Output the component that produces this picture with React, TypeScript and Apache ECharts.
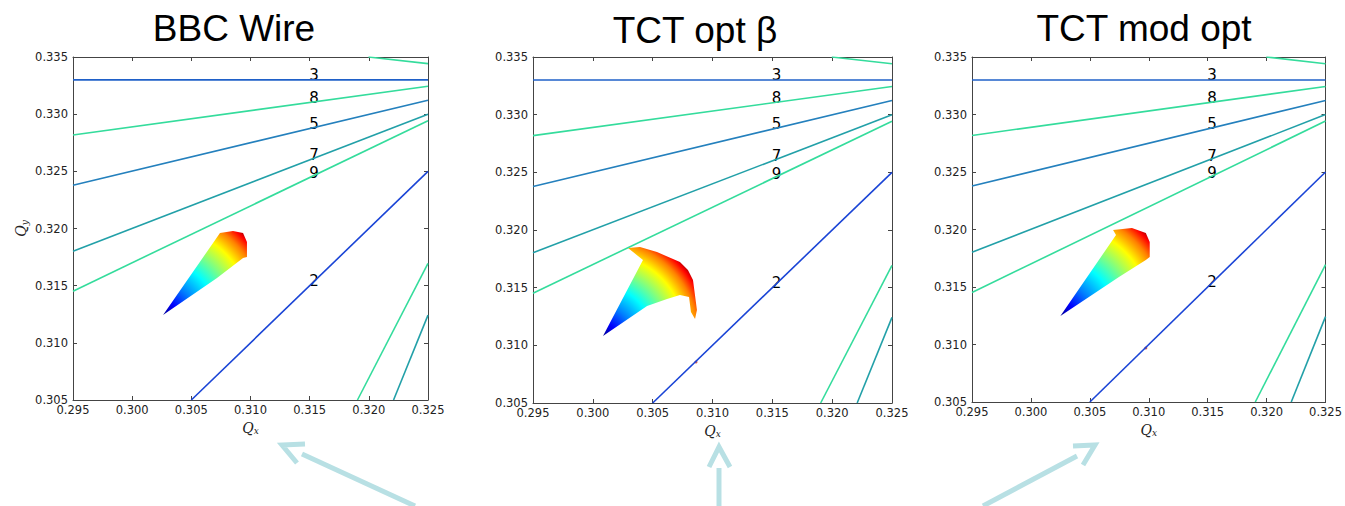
import React, { useEffect, useRef } from "react";
import * as echarts from "echarts";

// ---- data ----
const panelTitles = ["BBC Wire", "TCT opt β", "TCT mod opt"];

const qxMin = 0.295;
const qxMax = 0.325;
const qyMin = 0.305;
const qyMax = 0.335;
const tickStep = 0.005;

// resonance lines (same in each panel): order, start point, end point
const resonanceOrder = [3, 8, 5, 7, 9, 2, 9, 9, 7];
const resonanceStart = [
  [0.295, 0.333],
  [0.295, 0.32818],
  [0.295, 0.32378],
  [0.295, 0.31802],
  [0.295, 0.31452],
  [0.305, 0.305],
  [0.31997, 0.335],
  [0.31904, 0.305],
  [0.32209, 0.305],
];
const resonanceEnd = [
  [0.325, 0.333],
  [0.325, 0.33244],
  [0.325, 0.33122],
  [0.325, 0.32999],
  [0.325, 0.32943],
  [0.325, 0.325],
  [0.325, 0.33442],
  [0.325, 0.31694],
  [0.325, 0.31242],
];

// order labels at Qx = 0.315
const labelOrder = [3, 8, 5, 7, 9, 2];
const labelQx = 0.315;
const labelQy = [0.333, 0.33102, 0.32874, 0.326, 0.32446, 0.315];

// tune footprints (outline, first vertex = zero-amplitude tip)
const footprintBBC = [
  [0.30261, 0.31243],
  [0.30742, 0.31961],
  [0.30852, 0.31978],
  [0.30937, 0.31961],
  [0.3097, 0.31882],
  [0.3097, 0.31751],
  [0.30937, 0.31742],
  [0.30717, 0.31567],
];
const footprintOptBeta = [
  [0.30085, 0.31081],
  [0.30419, 0.3174],
  [0.30294, 0.31844],
  [0.30394, 0.31853],
  [0.30536, 0.31809],
  [0.30728, 0.31722],
  [0.30795, 0.31653],
  [0.30837, 0.31567],
  [0.3087, 0.31306],
  [0.30854, 0.31228],
  [0.3082, 0.31289],
  [0.30804, 0.31419],
  [0.30728, 0.31437],
  [0.3062, 0.31402],
  [0.30453, 0.31341],
];
const footprintModOpt = [
  [0.3025, 0.31248],
  [0.30722, 0.31952],
  [0.30697, 0.31996],
  [0.30857, 0.32013],
  [0.30975, 0.3197],
  [0.31008, 0.31891],
  [0.31008, 0.31761],
  [0.30975, 0.31735],
  [0.30747, 0.31587],
];
const footprints = [footprintBBC, footprintOptBeta, footprintModOpt];

// stray particles
const strayBBC: number[][] = [];
const strayOptBeta = [[0.30862, 0.30856]];
const strayModOpt = [[0.30975, 0.3097]];
const strays = [strayBBC, strayOptBeta, strayModOpt];

// ---- styles ----
const orderColor: Record<number, string> = {
  2: "#1a44d6",
  3: "#1f60c8",
  5: "#2480bd",
  7: "#22a0a8",
  8: "#34dc9c",
  9: "#34dc9c",
};
const grids = [
  { left: 73, top: 57, width: 355, height: 343 },
  { left: 533, top: 57, width: 359, height: 346 },
  { left: 972, top: 57, width: 356, height: 345 },
];
const titlePos = [
  [234, 28],
  [695, 30],
  [1144, 28],
];
const jetStops = [
  { offset: 0, color: "#00008f" },
  { offset: 0.12, color: "#0000ff" },
  { offset: 0.27, color: "#0080ff" },
  { offset: 0.45, color: "#00ffff" },
  { offset: 0.6, color: "#80ff80" },
  { offset: 0.75, color: "#ffff00" },
  { offset: 0.87, color: "#ff8000" },
  { offset: 0.95, color: "#ff0000" },
  { offset: 1, color: "#900000" },
];
const axisColor = "#444";
const textColor = "#222";
const arrowColor = "#b8e0e4";

export default function App() {
  const ref = useRef<HTMLDivElement>(null);
  useEffect(() => {
    if (!ref.current) return;
    const chart = echarts.init(ref.current, undefined, { renderer: "svg" });
    const xAxes: any[] = [];
    const yAxes: any[] = [];
    const series: any[] = [];
    const nameRich = {
      q: { fontFamily: "DejaVu Serif", fontStyle: "italic", fontSize: 14, color: textColor },
      s: { fontFamily: "DejaVu Serif", fontStyle: "italic", fontSize: 9, color: textColor, padding: [7, 0, 0, 0] },
    };
    grids.forEach((g, i) => {
      const base = {
        gridIndex: i,
        type: "value",
        interval: tickStep,
        splitLine: { show: false },
        axisLine: { show: true, onZero: false, lineStyle: { color: axisColor, width: 1 } },
        axisTick: { show: true, inside: true, length: 4, lineStyle: { color: axisColor } },
      };
      const label = {
        show: true,
        fontFamily: "DejaVu Sans",
        fontSize: 11.5,
        color: textColor,
        formatter: (v: number) => v.toFixed(3),
        showMinLabel: true,
        showMaxLabel: true,
      };
      xAxes.push({
        ...base,
        min: qxMin,
        max: qxMax,
        position: "bottom",
        axisLabel: { ...label, margin: 4 },
        name: "{q|Q}{s|x}",
        nameLocation: "middle",
        nameGap: 17,
        nameTextStyle: { rich: nameRich },
      });
      xAxes.push({ ...base, min: qxMin, max: qxMax, position: "top", axisLabel: { show: false } });
      yAxes.push({
        ...base,
        min: qyMin,
        max: qyMax,
        position: "left",
        axisLabel: { ...label, margin: 5 },
        name: i === 0 ? "{q|Q}{s|y}" : "",
        nameLocation: "middle",
        nameRotate: 90,
        nameGap: 44,
        nameTextStyle: { rich: nameRich },
      });
      yAxes.push({ ...base, min: qyMin, max: qyMax, position: "right", axisLabel: { show: false } });

      resonanceOrder.forEach((ord, k) => {
        series.push({
          type: "line",
          xAxisIndex: 2 * i,
          yAxisIndex: 2 * i,
          data: [resonanceStart[k], resonanceEnd[k]],
          symbol: "none",
          silent: true,
          lineStyle: { color: orderColor[ord], width: 1.6 },
        });
      });

      const fp = footprints[i];
      series.push({
        type: "custom",
        xAxisIndex: 2 * i,
        yAxisIndex: 2 * i,
        data: fp,
        silent: true,
        renderItem: (params: any, api: any) => {
          if (params.dataIndex !== 0) return null;
          const pts = fp.map((p) => api.coord(p));
          const tip = pts[0];
          let r = 0;
          pts.forEach((p: number[]) => {
            r = Math.max(r, Math.hypot(p[0] - tip[0], p[1] - tip[1]));
          });
          return {
            type: "polygon",
            shape: { points: pts },
            style: {
              fill: new echarts.graphic.RadialGradient(tip[0], tip[1], r * 1.02, jetStops, true),
              stroke: null,
            },
          };
        },
      });

      series.push({
        type: "scatter",
        xAxisIndex: 2 * i,
        yAxisIndex: 2 * i,
        data: strays[i],
        symbolSize: 3,
        silent: true,
        itemStyle: { color: "#c03028" },
      });

      series.push({
        type: "scatter",
        xAxisIndex: 2 * i,
        yAxisIndex: 2 * i,
        data: labelQy.map((y, k) => [labelQx, y, labelOrder[k]]),
        symbolSize: 1,
        silent: true,
        itemStyle: { color: "rgba(0,0,0,0)" },
        label: {
          show: true,
          position: [0, 3],
          align: "left",
          verticalAlign: "bottom",
          fontFamily: "DejaVu Sans",
          fontSize: 15,
          color: "#000",
          opacity: 1,
          textBorderWidth: 0,
          formatter: (p: any) => String(p.value[2]),
        },
      });
    });

    const graphics: any[] = panelTitles.map((t, i) => ({
      type: "text",
      x: titlePos[i][0],
      y: titlePos[i][1],
      style: {
        text: t,
        fontFamily: "Liberation Sans",
        fontSize: 37,
        fill: "#000",
        align: "center",
        verticalAlign: "middle",
      },
    }));
    const arrows = [
      { shaft: [[415, 506], [302, 454]], head: [[305, 444], [282, 445], [297, 463]] },
      { shaft: [[719, 506], [719, 468]], head: [[709, 467], [719, 447], [730, 467]] },
      { shaft: [[983, 506], [1077, 456]], head: [[1073, 446], [1095, 445], [1083, 465]] },
    ];
    arrows.forEach((a) => {
      graphics.push({ type: "polyline", shape: { points: a.shaft }, style: { stroke: arrowColor, lineWidth: 5, fill: null } });
      graphics.push({ type: "polyline", shape: { points: a.head }, style: { stroke: arrowColor, lineWidth: 5, fill: null, lineJoin: "miter" } });
    });

    chart.setOption({
      animation: false,
      backgroundColor: "#fff",
      grid: grids.map((g) => ({ ...g, containLabel: false })),
      xAxis: xAxes,
      yAxis: yAxes,
      series,
      graphic: graphics,
    });
    return () => chart.dispose();
  }, []);
  return (
    <div
      ref={ref}
      style={{ position: "fixed", left: 0, top: 0, width: 1345, height: 506 }}
    />
  );
}
